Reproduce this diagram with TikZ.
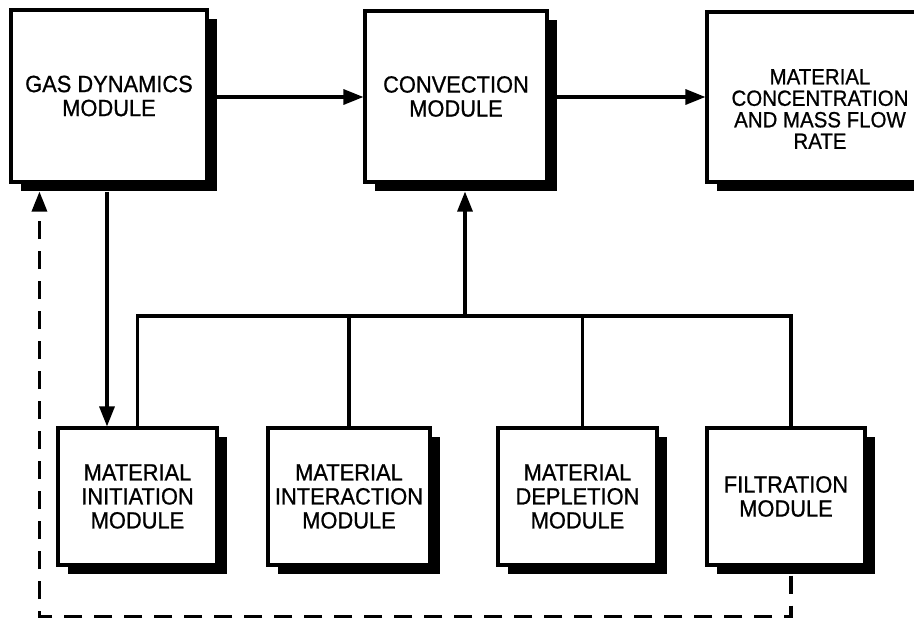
\documentclass[tikz,border=0pt]{standalone}
\usepackage{fontspec}
\setmainfont{Liberation Sans}[FakeStretch=0.93, FakeBold=0.8]
\usetikzlibrary{arrows.meta,calc,shadows}
\tikzset{
  modbox/.style={draw, line width=3.1pt, fill=white, inner sep=0pt,
    align=center, font=\fontsize{23.5}{24}\selectfont,
    drop shadow={shadow xshift=10pt, shadow yshift=-9pt, opacity=1, fill=black}},
  conn/.style={line width=3.2pt},
  arr/.style={conn, -{Triangle[length=20pt,width=15pt]}},
  dashline/.style={conn, dash pattern=on 18pt off 12pt},
}
\begin{document}
\begin{tikzpicture}[x=1pt,y=-1pt]
\clip (0,0) rectangle (914,619);
\fill[white] (0,0) rectangle (914,619);
% boxes
\node[modbox, minimum width=196pt, minimum height=172pt] (gd) at (109,96) {GAS DYNAMICS\\MODULE};
\node[modbox, minimum width=182pt, minimum height=171pt] (conv) at (456,96.5) {CONVECTION\\MODULE};
\node[modbox, minimum width=226pt, minimum height=170pt] (mat) at (820,97) {};
\node[align=center, font=\fontsize{22}{21.5}\selectfont] (mattext) at (820,109) {MATERIAL\\CONCENTRATION\\AND MASS FLOW\\RATE};
\node[modbox, minimum width=159pt, minimum height=137pt] (init) at (137.5,496.5) {MATERIAL\\INITIATION\\MODULE};
\node[modbox, minimum width=162pt, minimum height=137pt] (inter) at (349,496.5) {MATERIAL\\INTERACTION\\MODULE};
\node[modbox, minimum width=159pt, minimum height=137pt] (depl) at (577.5,496.5) {MATERIAL\\DEPLETION\\MODULE};
\node[modbox, minimum width=158pt, minimum height=137pt] (filt) at (786,496.5) {FILTRATION\\MODULE};
% top flow
\draw[arr] ($(gd.east)+(8,1)$) -- ($(conv.west)+(0,0.5)$);
\draw[arr] ($(conv.east)+(8,0.5)$) -- ($(mat.west)$);
% gas dynamics down to initiation
\draw[arr] ($(gd.south)+(-2,8)$) -- ($(init.north)+(-30.5,0)$);
% bus
\coordinate (bus) at (465,316);
\draw[conn] (init.north) -- (init.north |- bus) -- ($(filt.north |- bus)+(5,0)$) -- ($(filt.north)+(5,0)$);
\draw[conn] (inter.north) -- (inter.north |- bus);
\draw[conn] ($(depl.north)+(5,0)$) -- ($(depl.north |- bus)+(5,0)$);
\draw[arr] (bus) -- ($(bus |- conv.south)+(0,8)$);
% dashed feedback
\draw[dashline, -{Triangle[length=20pt,width=15pt]}] ($(filt.south)+(5,9)$) -- ($(filt.south)+(5,50)$) -| ($(gd.south west)+(30,8)$);
\end{tikzpicture}
\end{document}
